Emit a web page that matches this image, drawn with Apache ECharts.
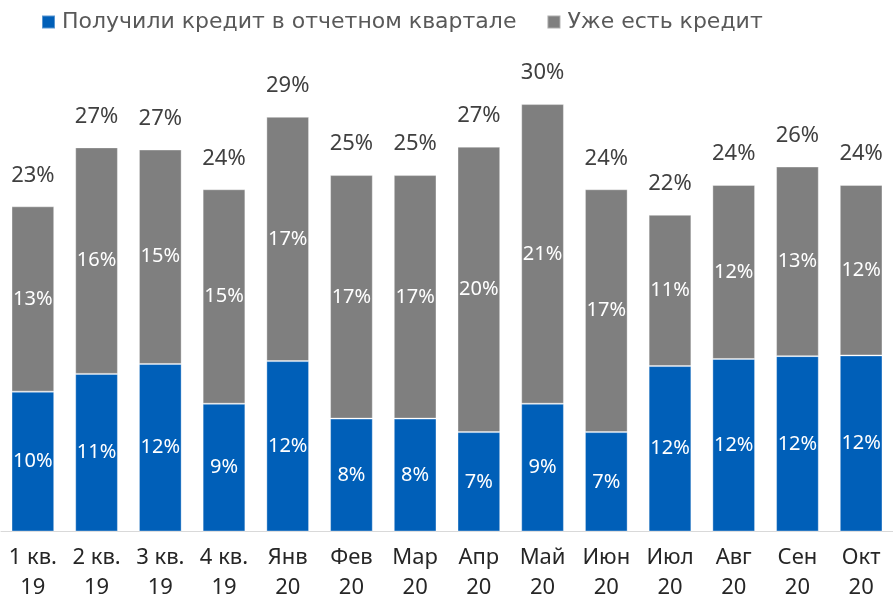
<!DOCTYPE html>
<html>
<head>
<meta charset="utf-8">
<script src="https://cdn.jsdelivr.net/npm/echarts@6/dist/echarts.min.js"></script>
<style>
  html, body { margin: 0; padding: 0; background: #fff; }
  #chart { width: 893px; height: 603px; }
</style>
</head>
<body>
<div id="chart"></div>
<script>
// категории (подпись в две строки)
const categories = [
  "1 кв.\n19", "2 кв.\n19", "3 кв.\n19", "4 кв.\n19",
  "Янв\n20", "Фев\n20", "Мар\n20", "Апр\n20", "Май\n20",
  "Июн\n20", "Июл\n20", "Авг\n20", "Сен\n20", "Окт\n20"
];
// доли, %
const newCredit = [9.85, 11.1, 11.8, 9.0, 12.0, 7.95, 7.95, 7.0, 9.0, 7.0, 11.65, 12.15, 12.35, 12.4];
const hasCredit = [13.05, 15.95, 15.1, 15.1, 17.2, 17.15, 17.15, 20.1, 21.1, 17.1, 10.65, 12.25, 13.35, 12.0];
const totals = newCredit.map((v, i) => v + hasCredit[i]);

const font = "'Noto Sans', sans-serif";
const pct = (v) => Math.round(v) + "%";

const chart = echarts.init(document.getElementById("chart"));
chart.setOption({
  animation: false,
  legend: {
    data: ["Получили кредит в отчетном квартале", "Уже есть кредит"],
    left: 36,
    top: 6,
    icon: "rect",
    itemWidth: 13,
    itemHeight: 13,
    itemGap: 30,
    textStyle: { fontFamily: "'DejaVu Sans', sans-serif", fontSize: 22, color: "#595959", padding: [0, 0, 0, 2] },
  },
  grid: {
    left: 1,
    right: -8,
    top: 34.5,
    bottom: 71.5,
  },
  xAxis: {
    type: "category",
    data: categories,
    axisLine: { lineStyle: { color: "#D9D9D9", width: 1 } },
    axisTick: { show: false },
    axisLabel: {
      interval: 0,
      fontFamily: font,
      fontSize: 22,
      lineHeight: 30,
      color: "#262626",
      margin: 11,
    },
  },
  yAxis: {
    type: "value",
    min: 0,
    max: 35,
    show: false,
    splitLine: { show: false },
  },
  series: [
    {
      name: "Получили кредит в отчетном квартале",
      type: "bar",
      stack: "total",
      barCategoryGap: "33%",
      data: newCredit,
      itemStyle: { color: "#005FB8", borderColor: "rgba(255,255,255,0.35)", borderWidth: 1 },
      label: {
        show: true,
        position: "inside",
        color: "#fff",
        fontFamily: font,
        fontSize: 20,
        formatter: (p) => pct(p.value),
      },
    },
    {
      name: "Уже есть кредит",
      type: "bar",
      stack: "total",
      data: hasCredit,
      itemStyle: { color: "#7F7F7F", borderColor: "rgba(255,255,255,0.35)", borderWidth: 1 },
      label: {
        show: true,
        position: "inside",
        color: "#fff",
        fontFamily: font,
        fontSize: 20,
        formatter: (p) => pct(p.value),
      },
    },
    {
      name: "Итого",
      type: "bar",
      stack: "total",
      data: totals.map(() => 0),
      itemStyle: { color: "transparent" },
      label: {
        show: true,
        position: "top",
        distance: 20,
        color: "#404040",
        fontFamily: font,
        fontSize: 22,
        formatter: (p) => pct(totals[p.dataIndex]),
      },
    },
  ],
});
</script>
</body>
</html>
